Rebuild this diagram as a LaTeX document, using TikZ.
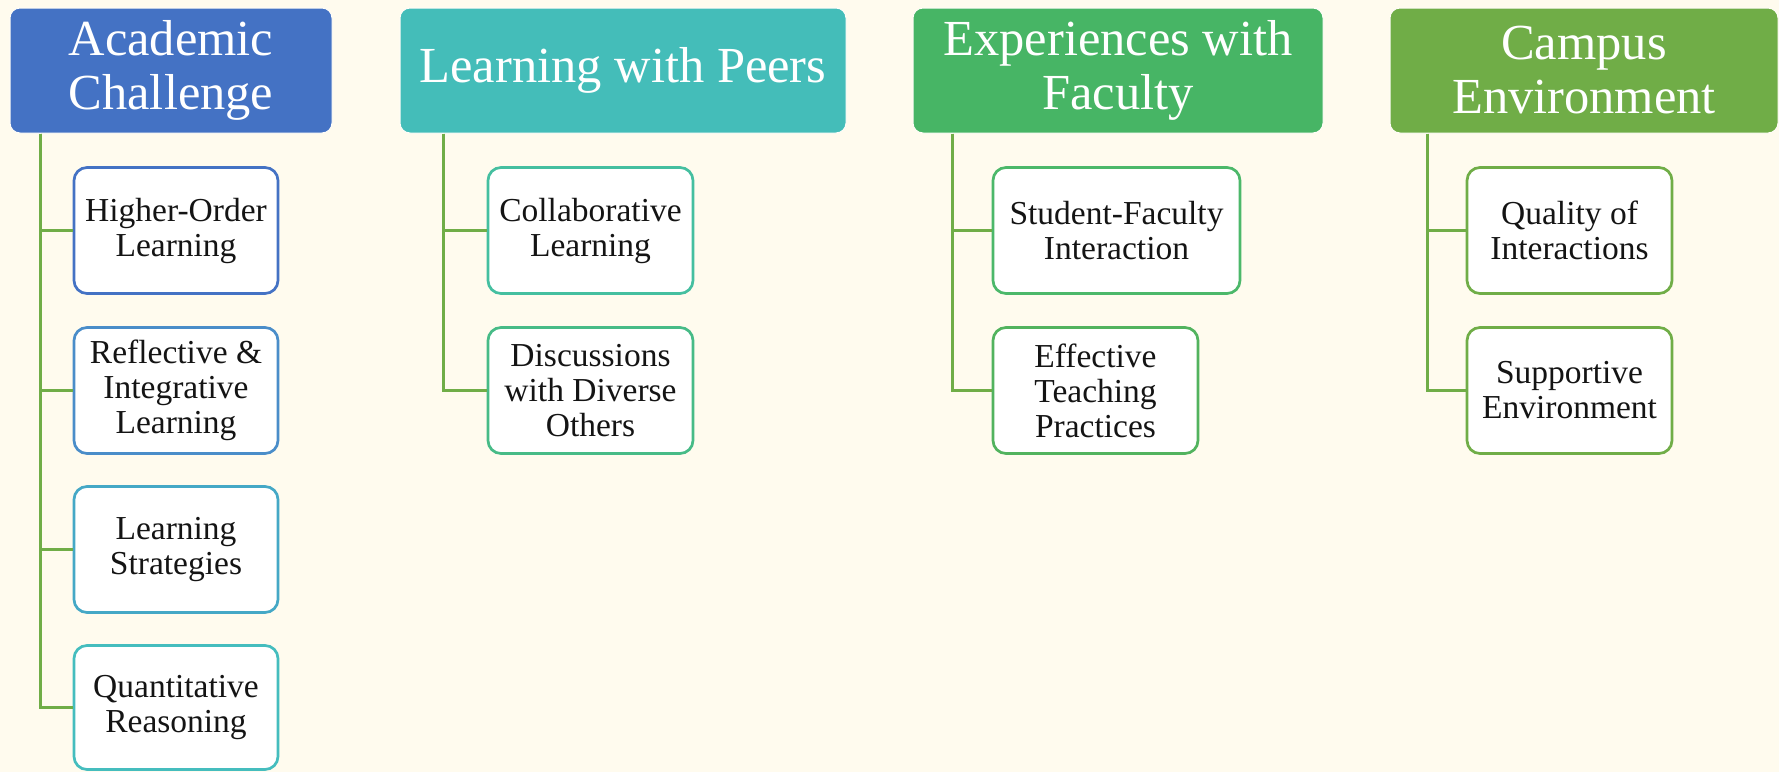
\documentclass[tikz,border=0pt]{standalone}
\usepackage{fontspec}
\setmainfont{Liberation Serif}
\definecolor{bg}{HTML}{FFFBEE}
\definecolor{cA}{HTML}{4472C4}
\definecolor{cP}{HTML}{44BDB9}
\definecolor{cF}{HTML}{47B565}
\definecolor{cC}{HTML}{70AD47}
\definecolor{bA1}{HTML}{4472C4}
\definecolor{bA2}{HTML}{4A8DC9}
\definecolor{bA3}{HTML}{45A8C6}
\definecolor{bA4}{HTML}{45BDBE}
\definecolor{bP1}{HTML}{45BFA0}
\definecolor{bP2}{HTML}{47BB87}
\definecolor{bF1}{HTML}{4CB86A}
\definecolor{bF2}{HTML}{52B35E}
\definecolor{bC}{HTML}{70AD47}
\definecolor{conncol}{HTML}{70AD47}
\definecolor{txt}{HTML}{141414}
\begin{document}
\begin{tikzpicture}[x=1pt,y=-1pt,
  head/.style={rounded corners=10pt, inner sep=0pt, minimum height=125pt, text=white, align=center,
    draw=white!60!bg, line width=1pt, font=\fontsize{50.5}{54}\selectfont},
  child/.style={rounded corners=13pt, inner sep=0pt, minimum height=126pt, fill=white, line width=2.7pt,
    text=txt, align=center, font=\fontsize{33.5}{35}\selectfont},
  conn/.style={draw=conncol, line width=3pt}]
\fill[bg] (0,0) rectangle (1779,772);
\useasboundingbox (0,0) rectangle (1779,772);
% headers
\node[head, fill=cA, minimum width=322pt] (hA) at (171,70.5) {Academic\\Challenge};
\node[head, fill=cP, minimum width=446pt] (hP) at (623,70.5) {Learning with Peers};
\node[head, fill=cF, minimum width=410pt] (hF) at (1118,70.5) {Experiences with\\Faculty};
\node[head, fill=cC, minimum width=388pt] (hC) at (1584,70.5) {Campus\\Environment};
% children
\node[child, draw=bA1, minimum width=204pt] (a1) at (176,230.5) {Higher-Order\\Learning};
\node[child, draw=bA2, minimum width=204pt] (a2) at (176,390.5) {Reflective \&\\Integrative\\Learning};
\node[child, draw=bA3, minimum width=204pt] (a3) at (176,549.5) {Learning\\Strategies};
\node[child, draw=bA4, minimum width=204pt, minimum height=124pt] (a4) at (176,707.5) {Quantitative\\Reasoning};
\node[child, draw=bP1, minimum width=205pt] (p1) at (590.5,230.5) {Collaborative\\Learning};
\node[child, draw=bP2, minimum width=205pt] (p2) at (590.5,390.5) {Discussions\\with Diverse\\Others};
\node[child, draw=bF1, minimum width=247pt] (f1) at (1116.5,230.5) {Student-Faculty\\Interaction};
\node[child, draw=bF2, minimum width=205pt] (f2) at (1095.5,390.5) {Effective\\Teaching\\Practices};
\node[child, draw=bC, minimum width=205pt] (c1) at (1569.5,230.5) {Quality of\\Interactions};
\node[child, draw=bC, minimum width=205pt] (c2) at (1569.5,390.5) {Supportive\\Environment};
% connectors
\foreach \n in {a1,a2,a3,a4} \draw[conn] ([xshift=31pt]hA.south west) |- (\n.west);
\foreach \n in {p1,p2} \draw[conn] ([xshift=44pt]hP.south west) |- (\n.west);
\foreach \n in {f1,f2} \draw[conn] ([xshift=40pt]hF.south west) |- (\n.west);
\foreach \n in {c1,c2} \draw[conn] ([xshift=38pt]hC.south west) |- (\n.west);
\end{tikzpicture}
\end{document}
